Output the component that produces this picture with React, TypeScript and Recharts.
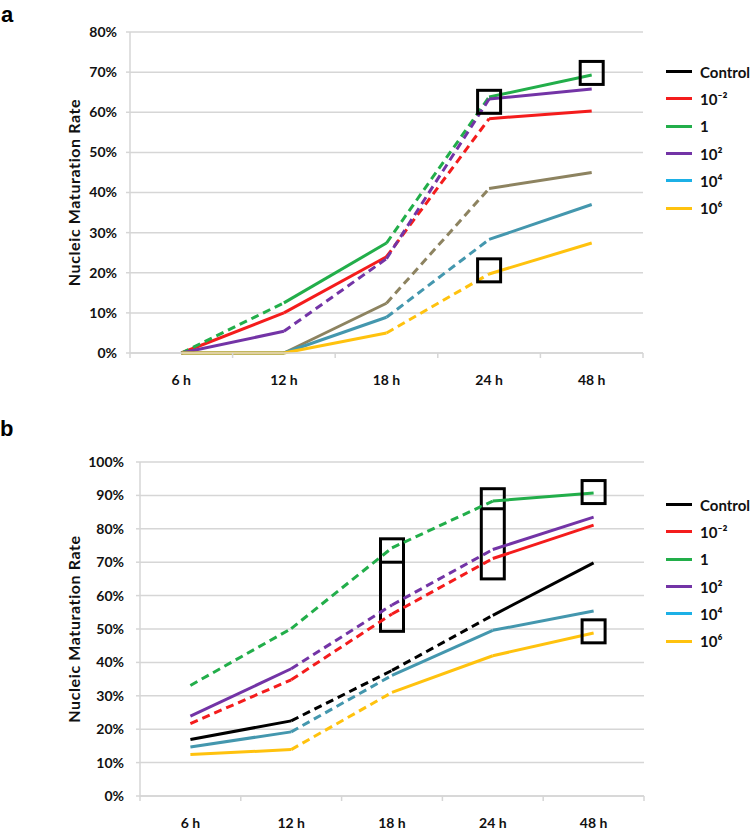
import React from "react";
import {
  LineChart,
  Line,
  XAxis,
  YAxis,
  CartesianGrid,
  ReferenceArea,
  ReferenceDot,
  Label,
} from "recharts";

const hours = ["6 h", "12 h", "18 h", "24 h", "48 h"];
const seriesNames = ["Control", "10⁻²", "1", "10²", "10⁴", "10⁶"];

// panel a, nucleic maturation rate (%)
const aControl = [0, 0, 12.4, 41, 45];
const aTenMinus2 = [0, 10, 24, 58.4, 60.3];
const aOne = [0, 12.5, 27.4, 63.8, 69.3];
const aTen2 = [0, 5.4, 23.5, 63.3, 65.8];
const aTen4 = [0, 0, 8.9, 28.3, 37];
const aTen6 = [0, 0, 5, 19.7, 27.4];

// panel b, nucleic maturation rate (%)
const bControl = [16.9, 22.5, 37.6, 54.1, 69.8];
const bTenMinus2 = [21.7, 34.8, 54.5, 71.1, 81.1];
const bOne = [33.1, 50.1, 74.3, 88.3, 90.7];
const bTen2 = [23.9, 38.1, 57.2, 73.8, 83.5];
const bTen4 = [14.7, 19.2, 36.1, 49.6, 55.4];
const bTen6 = [12.4, 13.9, 31, 42, 48.8];

const aTicks = [0, 10, 20, 30, 40, 50, 60, 70, 80];
const bTicks = [0, 10, 20, 30, 40, 50, 60, 70, 80, 90, 100];

// highlighted points (square boxes)
const aSquares = [
  { at: "24 h", v: 62.6 },
  { at: "48 h", v: 69.8 },
  { at: "24 h", v: 20.6 },
];
const bSquares = [
  { at: "48 h", v: 91 },
  { at: "48 h", v: 49.3 },
];
// tall boxes in panel b: from, to, inner divider
const bBoxes = [
  { at: "18 h", lo: 49.3, hi: 77, mid: 70 },
  { at: "24 h", lo: 65, hi: 92, mid: 86 },
];

// segment styles between consecutive time points: s = solid, d = dashed
const aStyles = [
  ["s", "s", "d", "s"],
  ["s", "s", "d", "s"],
  ["d", "s", "d", "s"],
  ["s", "d", "d", "s"],
  ["s", "s", "d", "s"],
  ["s", "s", "d", "s"],
];
const bStyles = [
  ["s", "d", "d", "s"],
  ["d", "d", "d", "s"],
  ["d", "d", "d", "s"],
  ["s", "d", "d", "s"],
  ["s", "d", "s", "s"],
  ["s", "d", "s", "s"],
];

const RED = "#f41c1c";
const GREEN = "#22ae4a";
const PURPLE = "#7334a6";
const TEAL = "#4497ae";
const YELLOW = "#ffc20e";
const legendColors = ["#000000", RED, GREEN, PURPLE, "#1cb0e6", YELLOW];
const aColors = ["#8d8360", RED, GREEN, PURPLE, TEAL, YELLOW];
const bColors = ["#000000", RED, GREEN, PURPLE, TEAL, YELLOW];

const FONT = "Lato, 'Open Sans', sans-serif";
const GRID = "#d6d6d6";

function buildRows(values: number[][]) {
  return hours.map((h, i) => {
    const row: Record<string, number | string | null> = { x: i + 0.5, hour: h };
    values.forEach((vals, s) => {
      for (let k = 0; k < hours.length - 1; k++) {
        row[`s${s}_${k}`] = i === k || i === k + 1 ? vals[i] : null;
      }
    });
    return row;
  });
}

const xPos = (h: string) => hours.indexOf(h) + 0.5;
const xTicks = hours.flatMap((_, i) => [i, i + 0.5]).concat(hours.length);

function XTick(props: any) {
  const { x, y, payload } = props;
  const v = payload.value as number;
  if (Number.isInteger(v)) {
    return <line x1={x} y1={y} x2={x} y2={y + 5} stroke={GRID} strokeWidth={1.5} />;
  }
  return (
    <text
      x={x}
      y={y + 26}
      textAnchor="middle"
      dominantBaseline="central"
      fontFamily={FONT}
      fontWeight={700}
      fontSize={14}
      fill="#111"
    >
      {hours[Math.floor(v)]}
    </text>
  );
}

const squareShape = (p: any) => (
  <rect x={p.cx - 11.5} y={p.cy - 11.5} width={23} height={23} fill="none" stroke="#000" strokeWidth={3} />
);
const dividerShape = (p: any) => (
  <line x1={p.cx - 11.5} y1={p.cy} x2={p.cx + 11.5} y2={p.cy} stroke="#000" strokeWidth={3} />
);
const tallBoxShape = (p: any) => {
  const cx = p.x + p.width / 2;
  return (
    <rect x={cx - 11.5} y={p.y} width={23} height={p.height} fill="none" stroke="#000" strokeWidth={3} />
  );
};

type PanelProps = {
  values: number[][];
  styles: string[][];
  colors: string[];
  ticks: number[];
  height: number;
  margin: { top: number; right: number; bottom: number; left: number };
  titleX: number;
  tickMargin: number;
  squares: { at: string; v: number }[];
  boxes?: { at: string; lo: number; hi: number; mid: number }[];
};

function Panel(props: PanelProps) {
  const { values, styles, colors, ticks, height, margin, titleX, tickMargin, squares, boxes = [] } = props;
  const rows = buildRows(values);
  return (
    <LineChart width={755} height={height} data={rows} margin={margin}>
      <CartesianGrid vertical={false} stroke={GRID} strokeWidth={1.5} />
      <XAxis
        dataKey="x"
        type="number"
        domain={[0, hours.length]}
        ticks={xTicks}
        interval={0}
        height={30}
        tickSize={0}
        tickMargin={0}
        tickLine={false}
        tick={<XTick />}
        axisLine={{ stroke: GRID, strokeWidth: 1.5 }}
      />
      <YAxis
        type="number"
        domain={[0, ticks[ticks.length - 1]]}
        ticks={ticks}
        interval={0}
        width={70}
        tickSize={4}
        tickMargin={tickMargin}
        tickFormatter={(v: number) => `${v}%`}
        tick={{ fill: "#111", fontSize: 14, fontWeight: 700, fontFamily: FONT }}
        tickLine={{ stroke: GRID, strokeWidth: 1.5 }}
        axisLine={{ stroke: GRID, strokeWidth: 1.5 }}
      >
        <Label
          content={(p: any) => {
            const vb = p.viewBox;
            const cy = vb.y + vb.height / 2;
            return (
              <text
                x={titleX}
                y={cy}
                transform={`rotate(-90, ${titleX}, ${cy})`}
                textAnchor="middle"
                dominantBaseline="central"
                fontFamily={FONT}
                fontWeight={700}
                fontSize={16}
                letterSpacing={0.6}
                fill="#111"
              >
                Nucleic Maturation Rate
              </text>
            );
          }}
        />
      </YAxis>
      {values.map((_, s) =>
        styles[s].map((st, k) => (
          <Line
            key={`s${s}_${k}`}
            dataKey={`s${s}_${k}`}
            type="linear"
            stroke={colors[s]}
            strokeWidth={3}
            strokeDasharray={st === "d" ? "8 5" : undefined}
            dot={false}
            activeDot={false}
            connectNulls={false}
            isAnimationActive={false}
          />
        ))
      )}
      {boxes.map((b, i) => (
        <ReferenceArea
          key={`box${i}`}
          x1={xPos(b.at) - 0.05}
          x2={xPos(b.at) + 0.05}
          y1={b.lo}
          y2={b.hi}
          shape={tallBoxShape}
        />
      ))}
      {boxes.map((b, i) => (
        <ReferenceDot key={`mid${i}`} x={xPos(b.at)} y={b.mid} r={11} shape={dividerShape} />
      ))}
      {squares.map((q, i) => (
        <ReferenceDot key={`sq${i}`} x={xPos(q.at)} y={q.v} r={11} shape={squareShape} />
      ))}
    </LineChart>
  );
}

function Legend({ top }: { top: number }) {
  return (
    <div style={{ position: "absolute", left: 666, top, fontFamily: FONT }}>
      {seriesNames.map((n, i) => (
        <div key={n} style={{ display: "flex", alignItems: "center", height: 27.3 }}>
          <div style={{ width: 26, height: 3, background: legendColors[i], marginRight: 8 }} />
          <span style={{ fontSize: 15, fontWeight: 700, color: "#111" }}>{n}</span>
        </div>
      ))}
    </div>
  );
}

export default function App() {
  return (
    <div style={{ position: "absolute", left: 0, top: 0, width: 755, height: 830, background: "#fff" }}>
      <div style={{ position: "absolute", left: 0, top: 0 }}>
        <Panel
          values={[aControl, aTenMinus2, aOne, aTen2, aTen4, aTen6]}
          styles={aStyles}
          colors={aColors}
          ticks={aTicks}
          height={400}
          margin={{ top: 32, right: 112, bottom: 17, left: 60 }}
          titleX={73}
          tickMargin={9}
          squares={aSquares}
        />
      </div>
      <div style={{ position: "absolute", left: 0, top: 410 }}>
        <Panel
          values={[bControl, bTenMinus2, bOne, bTen2, bTen4, bTen6]}
          styles={bStyles}
          colors={bColors}
          ticks={bTicks}
          height={420}
          margin={{ top: 52, right: 111, bottom: 4, left: 70 }}
          titleX={73}
          tickMargin={12}
          squares={bSquares}
          boxes={bBoxes}
        />
      </div>
      <Legend top={58} />
      <Legend top={491} />
      <div
        style={{
          position: "absolute",
          left: 1,
          top: 3,
          fontFamily: "'Liberation Sans', Arial, sans-serif",
          fontWeight: 700,
          fontSize: 22,
          lineHeight: "24px",
        }}
      >
        a
      </div>
      <div
        style={{
          position: "absolute",
          left: 0,
          top: 416,
          fontFamily: "'Liberation Sans', Arial, sans-serif",
          fontWeight: 700,
          fontSize: 22,
          lineHeight: "26px",
        }}
      >
        b
      </div>
    </div>
  );
}
